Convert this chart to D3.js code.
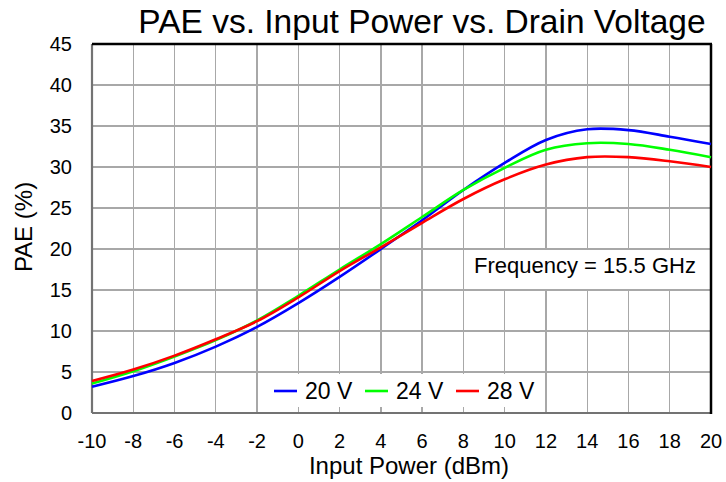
<!DOCTYPE html>
<html lang="en">
<head>
    <meta charset="UTF-8">
    <title>PAE vs. Input Power vs. Drain Voltage</title>
    <script src="https://d3js.org/d3.v7.min.js"></script>
    <style>
        body {
            margin: 0;
            background: #fff;
            font-family: "Liberation Sans", Arial, sans-serif;
        }
        .grid line {
            stroke: #a8a8a8;
            stroke-width: 1.3;
            shape-rendering: crispEdges;
        }
        .curve {
            fill: none;
            stroke-width: 2.6;
        }
    </style>
</head>
<body>
    <div id="chart"></div>

    <script>
        // datos (cada 2 dBm)
        const inputPower = [-10, -8, -6, -4, -2, 0, 2, 4, 6, 8, 10, 12, 14, 16, 18, 20];
        const pae20V = [3.2, 4.5, 6.1, 8.1, 10.5, 13.4, 16.6, 20.0, 23.5, 27.2, 30.5, 33.3, 34.6, 34.5, 33.7, 32.8];
        const pae24V = [3.6, 5.1, 6.9, 8.9, 11.3, 14.3, 17.5, 20.6, 23.9, 27.2, 29.9, 32.1, 32.9, 32.8, 32.1, 31.2];
        const pae28V = [3.9, 5.3, 7.0, 9.0, 11.2, 14.1, 17.3, 20.2, 23.2, 26.1, 28.5, 30.3, 31.2, 31.2, 30.7, 30.0];

        const seriesNames = ["20 V", "24 V", "28 V"];
        const seriesColors = ["#0000ff", "#00ff00", "#ff0000"];

        const xTicks = [-10, -8, -6, -4, -2, 0, 2, 4, 6, 8, 10, 12, 14, 16, 18, 20];
        const yTicks = [0, 5, 10, 15, 20, 25, 30, 35, 40, 45];

        const width = 726, height = 482;
        const margin = { top: 44, right: 15, bottom: 69, left: 92 };

        const svg = d3.select("#chart").append("svg")
            .attr("width", width)
            .attr("height", height);

        const x = d3.scaleLinear()
            .domain([-10, 20])
            .range([margin.left, width - margin.right]);

        const y = d3.scaleLinear()
            .domain([0, 45])
            .range([height - margin.bottom, margin.top]);

        // rejilla
        const grid = svg.append("g").attr("class", "grid");
        grid.selectAll(".vx")
            .data(xTicks.slice(1, -1))
            .enter().append("line")
            .attr("x1", d => x(d)).attr("x2", d => x(d))
            .attr("y1", y(45)).attr("y2", y(0));
        grid.selectAll(".hy")
            .data(yTicks.slice(1, -1))
            .enter().append("line")
            .attr("x1", x(-10)).attr("x2", x(20))
            .attr("y1", d => y(d)).attr("y2", d => y(d));

        // caja de frecuencia (tapa la celda 8..20 / 15..20)
        svg.append("rect")
            .attr("x", x(8) + 1)
            .attr("y", y(20) + 1)
            .attr("width", x(20) - x(8) - 2)
            .attr("height", y(15) - y(20) - 2)
            .attr("fill", "#fff");
        svg.append("text")
            .attr("x", 585)
            .attr("y", 273)
            .attr("text-anchor", "middle")
            .style("font-size", "22px")
            .text("Frequency = 15.5 GHz");

        // caja de leyenda
        svg.append("rect")
            .attr("x", 263)
            .attr("y", y(5) + 2)
            .attr("width", 278)
            .attr("height", y(0) - y(5) - 8)
            .attr("fill", "#fff");

        // marco
        svg.append("line")
            .attr("x1", x(-10)).attr("x2", x(-10))
            .attr("y1", y(45)).attr("y2", y(0))
            .attr("stroke", "#737373").attr("stroke-width", 2.2);
        svg.append("line")
            .attr("x1", x(-10)).attr("x2", x(20))
            .attr("y1", y(0)).attr("y2", y(0))
            .attr("stroke", "#737373").attr("stroke-width", 2.2);
        svg.append("line")
            .attr("x1", x(-10)).attr("x2", x(20) + 1)
            .attr("y1", y(45)).attr("y2", y(45))
            .attr("stroke", "#000").attr("stroke-width", 2.5);
        svg.append("line")
            .attr("x1", x(20)).attr("x2", x(20))
            .attr("y1", y(45)).attr("y2", y(0) + 1)
            .attr("stroke", "#000").attr("stroke-width", 2.5);

        // curvas
        const line = d3.line()
            .x(d => x(d[0]))
            .y(d => y(d[1]))
            .curve(d3.curveCatmullRom.alpha(0.5));

        [pae20V, pae24V, pae28V].forEach((vals, i) => {
            svg.append("path")
                .datum(inputPower.map((p, k) => [p, vals[k]]))
                .attr("class", "curve")
                .attr("stroke", seriesColors[i])
                .attr("d", line);
        });

        // etiquetas de ejes
        svg.append("g")
            .selectAll("text")
            .data(xTicks)
            .enter().append("text")
            .attr("x", d => x(d))
            .attr("y", 448)
            .attr("text-anchor", "middle")
            .style("font-size", "20px")
            .text(d => d);

        svg.append("g")
            .selectAll("text")
            .data(yTicks)
            .enter().append("text")
            .attr("x", 72)
            .attr("y", d => y(d) + 7)
            .attr("text-anchor", "end")
            .style("font-size", "20px")
            .text(d => d);

        svg.append("text")
            .attr("x", 409)
            .attr("y", 474)
            .attr("text-anchor", "middle")
            .style("font-size", "24px")
            .text("Input Power (dBm)");

        svg.append("text")
            .attr("transform", "translate(32," + 227 + ") rotate(-90)")
            .attr("text-anchor", "middle")
            .style("font-size", "24px")
            .text("PAE (%)");

        svg.append("text")
            .attr("x", 422)
            .attr("y", 33)
            .attr("text-anchor", "middle")
            .style("font-size", "33.5px")
            .text("PAE vs. Input Power vs. Drain Voltage");

        // leyenda
        const legend = svg.append("g");
        seriesNames.forEach((name, i) => {
            const lx = 274 + i * 91;
            legend.append("line")
                .attr("x1", lx).attr("x2", lx + 23)
                .attr("y1", 391).attr("y2", 391)
                .attr("stroke", seriesColors[i])
                .attr("stroke-width", 2.6);
            legend.append("text")
                .attr("x", lx + 31)
                .attr("y", 399)
                .style("font-size", "23px")
                .text(name);
        });
    </script>
</body>
</html>
